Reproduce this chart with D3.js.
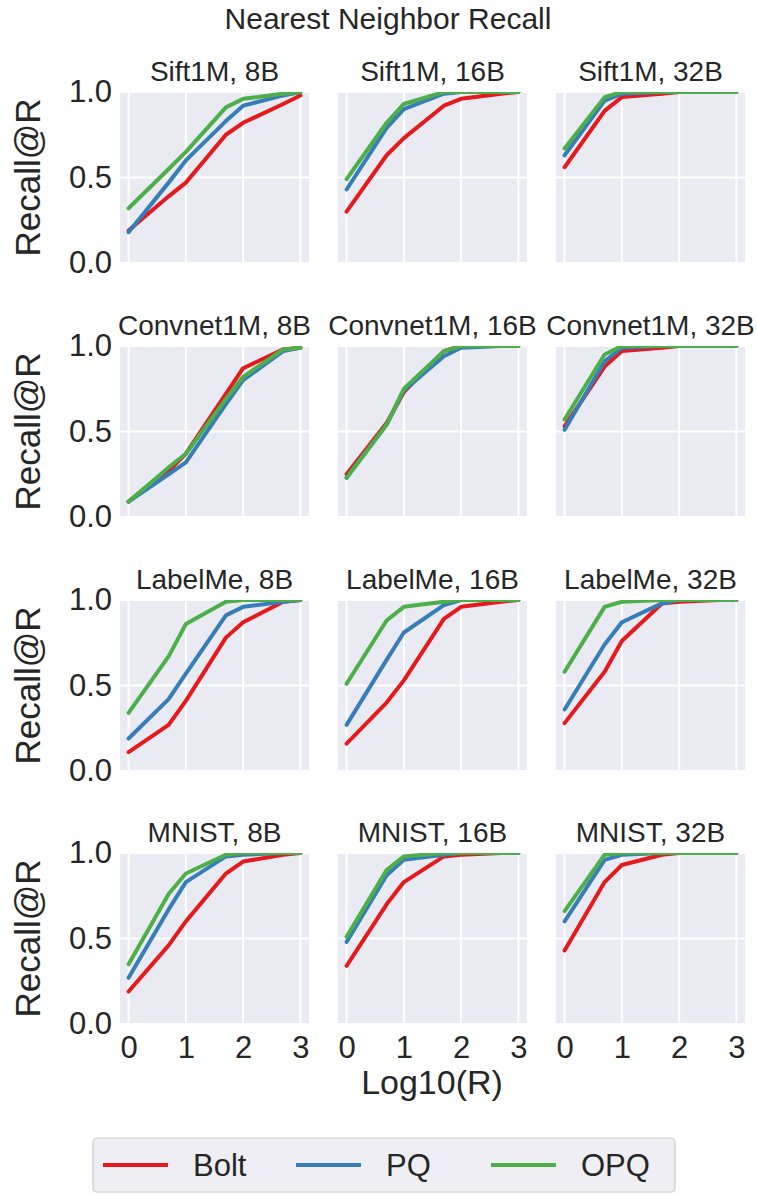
<!DOCTYPE html>
<html>
<head>
<meta charset="utf-8">
<script src="https://cdn.jsdelivr.net/npm/d3@7"></script>
<style>
  html, body { margin: 0; padding: 0; background: #ffffff; }
  svg { display: block; font-family: "Liberation Sans", Arial, sans-serif; }
</style>
</head>
<body>
<svg id="chart" width="757" height="1194"></svg>
<script>
// ---------------- data ----------------
const methods = ["Bolt", "PQ", "OPQ"];
const methodColors = ["#e41a1c", "#377eb8", "#4daf4a"];
const datasets = ["Sift1M", "Convnet1M", "LabelMe", "MNIST"];
const codeSizes = ["8B", "16B", "32B"];
// log10(R) for R = 1, 5, 10, 50, 100, 500, 1000
const logR = [0, 0.699, 1, 1.699, 2, 2.699, 3];
const xTicks = [0, 1, 2, 3];
const yTicks = [0, 0.5, 1];
const yTickLabels = ["0.0", "0.5", "1.0"];

// recall@R, indexed [dataset][codeSize]
const boltRecall = [
  [[0.19,0.39,0.47,0.75,0.82,0.93,0.98],[0.30,0.63,0.73,0.92,0.96,0.99,1.0],[0.56,0.89,0.97,0.99,1.0,1.0,1.0]],
  [[0.09,0.27,0.37,0.72,0.87,0.98,0.99],[0.25,0.55,0.73,0.97,1.0,1.0,1.0],[0.53,0.88,0.97,0.99,1.0,1.0,1.0]],
  [[0.11,0.27,0.41,0.78,0.87,0.99,1.0],[0.16,0.40,0.53,0.89,0.96,0.99,1.0],[0.28,0.58,0.76,0.98,0.99,1.0,1.0]],
  [[0.19,0.46,0.60,0.88,0.95,0.99,1.0],[0.34,0.70,0.83,0.98,0.99,1.0,1.0],[0.43,0.83,0.93,0.99,1.0,1.0,1.0]]
];
const pqRecall = [
  [[0.18,0.47,0.60,0.83,0.92,0.98,1.0],[0.43,0.79,0.90,0.99,1.0,1.0,1.0],[0.63,0.95,0.99,1.0,1.0,1.0,1.0]],
  [[0.09,0.25,0.32,0.66,0.80,0.97,0.99],[0.23,0.54,0.74,0.94,0.99,1.0,1.0],[0.51,0.91,0.99,1.0,1.0,1.0,1.0]],
  [[0.19,0.42,0.57,0.91,0.96,0.99,1.0],[0.27,0.65,0.81,0.97,1.0,1.0,1.0],[0.36,0.74,0.87,0.98,1.0,1.0,1.0]],
  [[0.27,0.67,0.83,0.98,0.99,1.0,1.0],[0.48,0.87,0.96,0.99,1.0,1.0,1.0],[0.60,0.96,0.99,1.0,1.0,1.0,1.0]]
];
const opqRecall = [
  [[0.32,0.55,0.65,0.91,0.96,0.99,1.0],[0.49,0.82,0.93,1.0,1.0,1.0,1.0],[0.67,0.97,1.0,1.0,1.0,1.0,1.0]],
  [[0.09,0.29,0.37,0.69,0.82,0.98,0.99],[0.23,0.54,0.75,0.97,1.0,1.0,1.0],[0.57,0.95,1.0,1.0,1.0,1.0,1.0]],
  [[0.34,0.67,0.86,0.99,1.0,1.0,1.0],[0.51,0.88,0.96,0.99,1.0,1.0,1.0],[0.58,0.96,0.99,1.0,1.0,1.0,1.0]],
  [[0.35,0.76,0.88,0.99,1.0,1.0,1.0],[0.51,0.90,0.98,1.0,1.0,1.0,1.0],[0.66,0.99,1.0,1.0,1.0,1.0,1.0]]
];
const seriesByMethod = [boltRecall, pqRecall, opqRecall];

// ---------------- layout ----------------
const svg = d3.select("#chart");
const colLeft = [120, 338, 556];
const rowTop = [92, 346, 600, 853];
const panelW = 189, panelH = 171;
const textColor = "#262626";

svg.append("text")
  .attr("x", 388).attr("y", 29)
  .attr("text-anchor", "middle")
  .attr("font-size", 30).attr("fill", textColor)
  .text("Nearest Neighbor Recall");

const defs = svg.append("defs");

datasets.forEach((ds, r) => {
  codeSizes.forEach((cs, c) => {
    const x0 = colLeft[c], y0 = rowTop[r];
    const x = d3.scaleLinear().domain([-0.15, 3.15]).range([x0, x0 + panelW]);
    const y = d3.scaleLinear().domain([0, 1]).range([y0 + panelH, y0]);
    const g = svg.append("g");
    const clipId = `clip-${r}-${c}`;
    defs.append("clipPath").attr("id", clipId)
      .append("rect").attr("x", x0).attr("y", y0).attr("width", panelW).attr("height", panelH);

    g.append("rect").attr("x", x0).attr("y", y0).attr("width", panelW).attr("height", panelH)
      .attr("fill", "#eaeaf2");

    // grid
    g.selectAll(".vg").data(xTicks).join("line")
      .attr("x1", d => x(d)).attr("x2", d => x(d))
      .attr("y1", y0).attr("y2", y0 + panelH)
      .attr("stroke", "#ffffff").attr("stroke-width", 2);
    g.selectAll(".hg").data(yTicks).join("line")
      .attr("x1", x0).attr("x2", x0 + panelW)
      .attr("y1", d => y(d)).attr("y2", d => y(d))
      .attr("stroke", "#ffffff").attr("stroke-width", 2);

    // series
    const line = d3.line().x((d, i) => x(logR[i])).y(d => y(d));
    const lg = g.append("g").attr("clip-path", `url(#${clipId})`);
    seriesByMethod.forEach((s, m) => {
      lg.append("path").datum(s[r][c])
        .attr("d", line)
        .attr("fill", "none")
        .attr("stroke", methodColors[m])
        .attr("stroke-width", 4)
        .attr("stroke-linejoin", "round")
        .attr("stroke-linecap", "round");
    });

    // title
    svg.append("text")
      .attr("x", x0 + panelW / 2).attr("y", y0 - 11)
      .attr("text-anchor", "middle")
      .attr("font-size", 28).attr("fill", textColor)
      .text(`${ds}, ${cs}`);

    // y axis on first column
    if (c === 0) {
      const ya = d3.axisLeft(y).tickValues(yTicks).tickSize(0).tickPadding(8)
        .tickFormat((d, i) => yTickLabels[i]);
      const ag = svg.append("g").attr("transform", `translate(${x0},0)`).call(ya);
      ag.select(".domain").remove();
      ag.selectAll("text").attr("font-size", 31).attr("fill", textColor)
        .attr("font-family", "Liberation Sans, Arial, sans-serif");
      svg.append("text")
        .attr("transform", `translate(40,${y0 + panelH / 2}) rotate(-90)`)
        .attr("text-anchor", "middle")
        .attr("font-size", 35).attr("fill", textColor)
        .text("Recall@R");
    }
    // x axis on bottom row
    if (r === datasets.length - 1) {
      const xa = d3.axisBottom(x).tickValues(xTicks).tickSize(0).tickPadding(12)
        .tickFormat(d3.format("d"));
      const ag = svg.append("g").attr("transform", `translate(0,${y0 + panelH})`).call(xa);
      ag.select(".domain").remove();
      ag.selectAll("text").attr("font-size", 31).attr("fill", textColor)
        .attr("font-family", "Liberation Sans, Arial, sans-serif");
    }
  });
});

svg.append("text")
  .attr("x", 432).attr("y", 1094)
  .attr("text-anchor", "middle")
  .attr("font-size", 34).attr("fill", textColor)
  .text("Log10(R)");

// legend
const legend = svg.append("g");
legend.append("rect")
  .attr("x", 93).attr("y", 1138).attr("width", 582).attr("height", 54)
  .attr("rx", 4)
  .attr("fill", "#eeeef4").attr("stroke", "#cccccc").attr("stroke-width", 1.2);
const legLineX = [103, 296, 491];
methods.forEach((m, i) => {
  legend.append("line")
    .attr("x1", legLineX[i]).attr("x2", legLineX[i] + 65)
    .attr("y1", 1165).attr("y2", 1165)
    .attr("stroke", methodColors[i]).attr("stroke-width", 4);
  legend.append("text")
    .attr("x", legLineX[i] + 90).attr("y", 1176)
    .attr("font-size", 31).attr("fill", textColor)
    .text(m);
});
</script>
</body>
</html>
